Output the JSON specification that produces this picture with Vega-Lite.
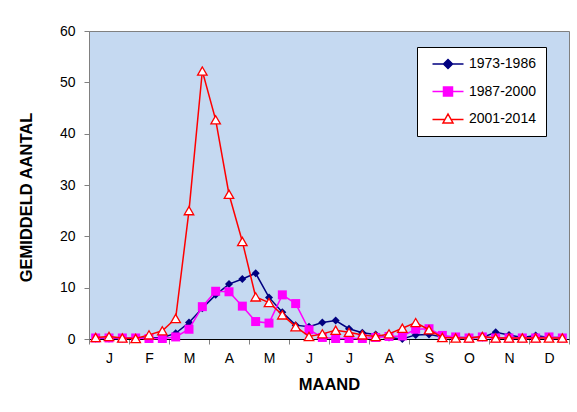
{
  "$schema": "https://vega.github.io/schema/vega-lite/v6.json",
  "width": 480,
  "height": 308,
  "autosize": "none",
  "padding": {"left": 89, "top": 31, "right": 8, "bottom": 73},
  "background": "white",
  "config": {
    "font": "Liberation Sans",
    "view": {"fill": "#C5D9F1", "stroke": "#808080", "strokeWidth": 1}
  },
  "data": {
    "values": [
      {"s": "1973-1986", "d": 1, "v": 0.1}, {"s": "1973-1986", "d": 2, "v": 0.1}, {"s": "1973-1986", "d": 3, "v": 0.1},
      {"s": "1973-1986", "d": 4, "v": 0.2}, {"s": "1973-1986", "d": 5, "v": 0.2}, {"s": "1973-1986", "d": 6, "v": 0.3},
      {"s": "1973-1986", "d": 7, "v": 1.1}, {"s": "1973-1986", "d": 8, "v": 3.2}, {"s": "1973-1986", "d": 9, "v": 6.0},
      {"s": "1973-1986", "d": 10, "v": 8.6}, {"s": "1973-1986", "d": 11, "v": 10.7}, {"s": "1973-1986", "d": 12, "v": 11.7},
      {"s": "1973-1986", "d": 13, "v": 12.8}, {"s": "1973-1986", "d": 14, "v": 8.1}, {"s": "1973-1986", "d": 15, "v": 5.2},
      {"s": "1973-1986", "d": 16, "v": 2.7}, {"s": "1973-1986", "d": 17, "v": 2.4}, {"s": "1973-1986", "d": 18, "v": 3.2},
      {"s": "1973-1986", "d": 19, "v": 3.6}, {"s": "1973-1986", "d": 20, "v": 2.0}, {"s": "1973-1986", "d": 21, "v": 1.2},
      {"s": "1973-1986", "d": 22, "v": 0.9}, {"s": "1973-1986", "d": 23, "v": 0.3}, {"s": "1973-1986", "d": 24, "v": 0.0},
      {"s": "1973-1986", "d": 25, "v": 0.8}, {"s": "1973-1986", "d": 26, "v": 0.9}, {"s": "1973-1986", "d": 27, "v": 0.4},
      {"s": "1973-1986", "d": 28, "v": 0.3}, {"s": "1973-1986", "d": 29, "v": 0.3}, {"s": "1973-1986", "d": 30, "v": 0.3},
      {"s": "1973-1986", "d": 31, "v": 1.3}, {"s": "1973-1986", "d": 32, "v": 0.8}, {"s": "1973-1986", "d": 33, "v": 0.3},
      {"s": "1973-1986", "d": 34, "v": 0.7}, {"s": "1973-1986", "d": 35, "v": 0.3}, {"s": "1973-1986", "d": 36, "v": 0.3},
      {"s": "1987-2000", "d": 1, "v": 0.2}, {"s": "1987-2000", "d": 2, "v": 0.2}, {"s": "1987-2000", "d": 3, "v": 0.2},
      {"s": "1987-2000", "d": 4, "v": 0.2}, {"s": "1987-2000", "d": 5, "v": 0.1}, {"s": "1987-2000", "d": 6, "v": 0.1},
      {"s": "1987-2000", "d": 7, "v": 0.4}, {"s": "1987-2000", "d": 8, "v": 1.9}, {"s": "1987-2000", "d": 9, "v": 6.3},
      {"s": "1987-2000", "d": 10, "v": 9.3}, {"s": "1987-2000", "d": 11, "v": 9.2}, {"s": "1987-2000", "d": 12, "v": 6.4},
      {"s": "1987-2000", "d": 13, "v": 3.4}, {"s": "1987-2000", "d": 14, "v": 3.1}, {"s": "1987-2000", "d": 15, "v": 8.6},
      {"s": "1987-2000", "d": 16, "v": 6.9}, {"s": "1987-2000", "d": 17, "v": 1.8}, {"s": "1987-2000", "d": 18, "v": 0.3},
      {"s": "1987-2000", "d": 19, "v": 0.1}, {"s": "1987-2000", "d": 20, "v": 0.1}, {"s": "1987-2000", "d": 21, "v": 0.1},
      {"s": "1987-2000", "d": 22, "v": 0.3}, {"s": "1987-2000", "d": 23, "v": 0.5}, {"s": "1987-2000", "d": 24, "v": 0.6},
      {"s": "1987-2000", "d": 25, "v": 1.9}, {"s": "1987-2000", "d": 26, "v": 2.0}, {"s": "1987-2000", "d": 27, "v": 0.7},
      {"s": "1987-2000", "d": 28, "v": 0.4}, {"s": "1987-2000", "d": 29, "v": 0.2}, {"s": "1987-2000", "d": 30, "v": 0.4},
      {"s": "1987-2000", "d": 31, "v": 0.2}, {"s": "1987-2000", "d": 32, "v": 0.2}, {"s": "1987-2000", "d": 33, "v": 0.2},
      {"s": "1987-2000", "d": 34, "v": 0.2}, {"s": "1987-2000", "d": 35, "v": 0.4}, {"s": "1987-2000", "d": 36, "v": 0.2},
      {"s": "2001-2014", "d": 1, "v": 0.3}, {"s": "2001-2014", "d": 2, "v": 0.5}, {"s": "2001-2014", "d": 3, "v": 0.2},
      {"s": "2001-2014", "d": 4, "v": 0.1}, {"s": "2001-2014", "d": 5, "v": 0.8}, {"s": "2001-2014", "d": 6, "v": 1.6},
      {"s": "2001-2014", "d": 7, "v": 4.0}, {"s": "2001-2014", "d": 8, "v": 25.0}, {"s": "2001-2014", "d": 9, "v": 52.2},
      {"s": "2001-2014", "d": 10, "v": 42.7}, {"s": "2001-2014", "d": 11, "v": 28.2}, {"s": "2001-2014", "d": 12, "v": 19.0},
      {"s": "2001-2014", "d": 13, "v": 8.2}, {"s": "2001-2014", "d": 14, "v": 7.1}, {"s": "2001-2014", "d": 15, "v": 4.7},
      {"s": "2001-2014", "d": 16, "v": 2.4}, {"s": "2001-2014", "d": 17, "v": 0.5}, {"s": "2001-2014", "d": 18, "v": 1.0},
      {"s": "2001-2014", "d": 19, "v": 1.7}, {"s": "2001-2014", "d": 20, "v": 1.3}, {"s": "2001-2014", "d": 21, "v": 0.8},
      {"s": "2001-2014", "d": 22, "v": 0.5}, {"s": "2001-2014", "d": 23, "v": 1.0}, {"s": "2001-2014", "d": 24, "v": 2.1},
      {"s": "2001-2014", "d": 25, "v": 3.2}, {"s": "2001-2014", "d": 26, "v": 1.8}, {"s": "2001-2014", "d": 27, "v": 0.3},
      {"s": "2001-2014", "d": 28, "v": 0.2}, {"s": "2001-2014", "d": 29, "v": 0.2}, {"s": "2001-2014", "d": 30, "v": 0.5},
      {"s": "2001-2014", "d": 31, "v": 0.2}, {"s": "2001-2014", "d": 32, "v": 0.2}, {"s": "2001-2014", "d": 33, "v": 0.2},
      {"s": "2001-2014", "d": 34, "v": 0.2}, {"s": "2001-2014", "d": 35, "v": 0.2}, {"s": "2001-2014", "d": 36, "v": 0.2}
    ]
  },
  "encoding": {
    "x": {
      "field": "d", "type": "quantitative",
      "scale": {"domain": [0.5, 36.5], "nice": false, "zero": false},
      "axis": {
        "title": "MAAND",
        "titleFont": "Liberation Sans", "titleFontSize": 16.5, "titleFontWeight": "bold", "titleColor": "black",
        "titlePadding": 11,
        "values": [0.5, 2, 3.5, 5, 6.5, 8, 9.5, 11, 12.5, 14, 15.5, 17, 18.5, 20, 21.5, 23, 24.5, 26, 27.5, 29, 30.5, 32, 33.5, 35, 36.5],
        "labelExpr": "datum.value % 3 == 2 ? ['J','F','M','A','M','J','J','A','S','O','N','D'][floor(datum.value / 3)] : ''",
        "labelFont": "Liberation Sans", "labelFontSize": 14, "labelColor": "black",
        "labelPadding": 7, "labelOverlap": false, "labelFlush": false,
        "tickOpacity": {"condition": {"test": "datum.value % 3 == 2", "value": 0}, "value": 1},
        "tickColor": "#808080", "tickSize": 5,
        "domainColor": "black", "domainWidth": 1.2,
        "grid": false
      }
    },
    "y": {
      "field": "v", "type": "quantitative",
      "scale": {"domain": [0, 60], "nice": false},
      "axis": {
        "title": "GEMIDDELD AANTAL",
        "titleFont": "Liberation Sans", "titleFontSize": 16.5, "titleFontWeight": "bold", "titleColor": "black",
        "titlePadding": 25,
        "titleY": 166,
        "values": [0, 10, 20, 30, 40, 50, 60],
        "labelFont": "Liberation Sans", "labelFontSize": 14, "labelColor": "black",
        "labelPadding": 9,
        "tickColor": "#808080", "tickSize": 5,
        "domainColor": "#808080",
        "grid": false
      }
    },
    "color": {
      "field": "s", "type": "nominal",
      "scale": {"domain": ["1973-1986", "1987-2000", "2001-2014"], "range": ["#000080", "#FF00FF", "#FF0000"]},
      "legend": {
        "orient": "none", "legendX": 328, "legendY": 16,
        "title": null, "direction": "vertical",
        "fillColor": "white", "strokeColor": "#000000", "padding": 10,
        "rowPadding": 11.5,
        "symbolSize": 100, "symbolOffset": 14, "labelOffset": 14,
        "symbolStrokeWidth": 1.5,
        "labelFont": "Liberation Sans", "labelFontSize": 14, "labelColor": "black",
        "labelExpr": "datum.label + '\u00a0\u00a0\u00a0'",
        "encode": {
          "symbols": {
            "update": {
              "shape": {"signal": "datum.value == '1973-1986' ? 'M-3.1,0H-0.9M0.9,0H3.1M0,-0.9L0.9,0L0,0.9L-0.9,0Z' : datum.value == '1987-2000' ? 'M-3.1,0H-0.9M0.9,0H3.1M-0.9,-0.9H0.9V0.9H-0.9Z' : 'M-3.1,0.1H-0.6M0.6,0.1H3.1M0,-1L1,0.8L-1,0.8ZM0,-1L-1,0.8L1,0.8Z'"},
              "stroke": {"signal": "scale('color', datum.value)"},
              "strokeWidth": {"value": 1.5},
              "opacity": {"value": 1}
            }
          }
        }
      }
    }
  },
  "layer": [
    {"transform": [{"filter": "datum.s == '1973-1986'"}], "mark": {"type": "line", "strokeWidth": 1.5}},
    {"transform": [{"filter": "datum.s == '1973-1986'"}], "mark": {"type": "point", "shape": "diamond", "filled": true, "size": 64, "opacity": 1}},
    {"transform": [{"filter": "datum.s == '1987-2000'"}], "mark": {"type": "line", "strokeWidth": 1.5}},
    {"transform": [{"filter": "datum.s == '1987-2000'"}], "mark": {"type": "point", "shape": "square", "filled": true, "size": 81, "opacity": 1}},
    {"transform": [{"filter": "datum.s == '2001-2014'"}], "mark": {"type": "line", "strokeWidth": 1.5}},
    {"transform": [{"filter": "datum.s == '2001-2014'"}], "mark": {"type": "point", "shape": "triangle-up", "size": 90, "opacity": 1, "strokeWidth": 1.3},
     "encoding": {"fill": {"value": "#ffffff"}, "stroke": {"value": "#FF0000"}}}
  ]
}
